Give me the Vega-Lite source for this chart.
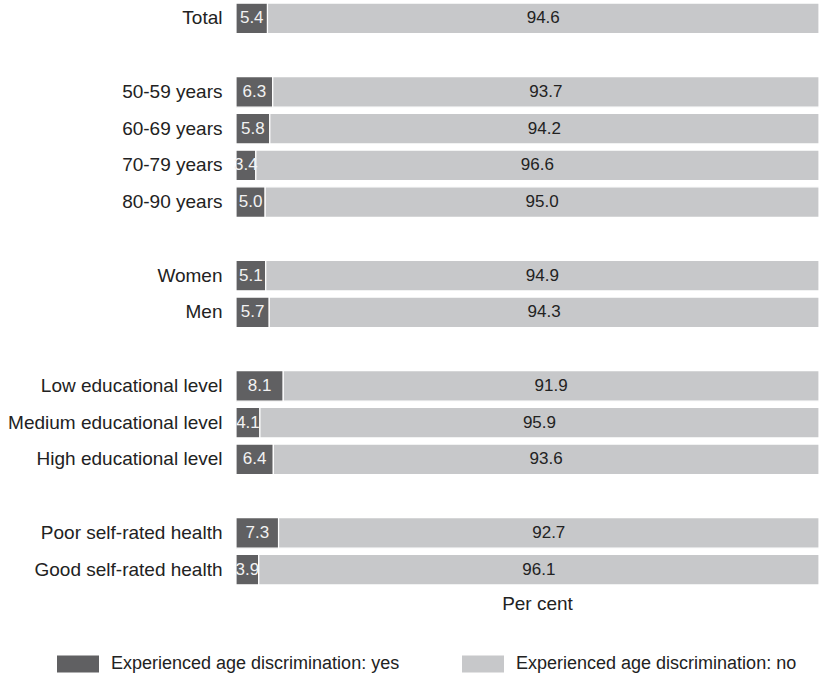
{
  "$schema": "https://vega.github.io/schema/vega-lite/v6.json",
  "autosize": {"type": "none"},
  "width": 583,
  "height": 588,
  "padding": {"left": 236, "top": 0, "right": 1, "bottom": 89},
  "background": "white",
  "config": {"font": "Liberation Sans", "view": {"stroke": null}},
  "data": {"values": [
    {"group": "Total", "resp": "Experienced age discrimination: yes", "pct": 5.4},
    {"group": "Total", "resp": "Experienced age discrimination: no", "pct": 94.6},
    {"group": "50-59 years", "resp": "Experienced age discrimination: yes", "pct": 6.3},
    {"group": "50-59 years", "resp": "Experienced age discrimination: no", "pct": 93.7},
    {"group": "60-69 years", "resp": "Experienced age discrimination: yes", "pct": 5.8},
    {"group": "60-69 years", "resp": "Experienced age discrimination: no", "pct": 94.2},
    {"group": "70-79 years", "resp": "Experienced age discrimination: yes", "pct": 3.4},
    {"group": "70-79 years", "resp": "Experienced age discrimination: no", "pct": 96.6},
    {"group": "80-90 years", "resp": "Experienced age discrimination: yes", "pct": 5.0},
    {"group": "80-90 years", "resp": "Experienced age discrimination: no", "pct": 95.0},
    {"group": "Women", "resp": "Experienced age discrimination: yes", "pct": 5.1},
    {"group": "Women", "resp": "Experienced age discrimination: no", "pct": 94.9},
    {"group": "Men", "resp": "Experienced age discrimination: yes", "pct": 5.7},
    {"group": "Men", "resp": "Experienced age discrimination: no", "pct": 94.3},
    {"group": "Low educational level", "resp": "Experienced age discrimination: yes", "pct": 8.1},
    {"group": "Low educational level", "resp": "Experienced age discrimination: no", "pct": 91.9},
    {"group": "Medium educational level", "resp": "Experienced age discrimination: yes", "pct": 4.1},
    {"group": "Medium educational level", "resp": "Experienced age discrimination: no", "pct": 95.9},
    {"group": "High educational level", "resp": "Experienced age discrimination: yes", "pct": 6.4},
    {"group": "High educational level", "resp": "Experienced age discrimination: no", "pct": 93.6},
    {"group": "Poor self-rated health", "resp": "Experienced age discrimination: yes", "pct": 7.3},
    {"group": "Poor self-rated health", "resp": "Experienced age discrimination: no", "pct": 92.7},
    {"group": "Good self-rated health", "resp": "Experienced age discrimination: yes", "pct": 3.9},
    {"group": "Good self-rated health", "resp": "Experienced age discrimination: no", "pct": 96.1}
  ]},
  "transform": [
    {"stack": "pct", "groupby": ["group"], "sort": [{"field": "resp", "order": "descending"}], "as": ["s0", "s1"]},
    {"calculate": "(datum.s0 + datum.s1) / 2", "as": "mid"}
  ],
  "encoding": {
    "y": {
      "field": "group", "type": "nominal",
      "scale": {
        "domain": ["Total", "gap1", "50-59 years", "60-69 years", "70-79 years", "80-90 years", "gap2", "Women", "Men", "gap3", "Low educational level", "Medium educational level", "High educational level", "gap4", "Poor self-rated health", "Good self-rated health"],
        "paddingInner": 0.17, "paddingOuter": 0.085
      },
      "axis": {
        "title": null, "domain": false, "ticks": false, "labelPadding": 14,
        "labelFontSize": 19, "labelColor": "#222222", "labelLimit": 300,
        "labelExpr": "indexof(datum.value, 'gap') === 0 ? '' : datum.value"
      }
    }
  },
  "layer": [
    {
      "mark": {"type": "bar", "stroke": "white", "strokeWidth": 1.2},
      "encoding": {
        "x": {
          "field": "s0", "type": "quantitative",
          "scale": {"domain": [0, 100], "nice": false},
          "axis": {"title": "Per cent", "domain": false, "ticks": false, "labels": false, "grid": false,
                   "titleFontSize": 19, "titleFontWeight": "normal", "titleColor": "#222222",
                   "titlePadding": 6, "titleX": 301, "titleAlign": "center"}
        },
        "x2": {"field": "s1"},
        "color": {
          "field": "resp", "type": "nominal",
          "scale": {"domain": ["Experienced age discrimination: yes", "Experienced age discrimination: no"], "range": ["#606062", "#c7c8ca"]},
          "legend": {
            "title": null, "orient": "none", "direction": "horizontal",
            "legendX": -179, "legendY": 643,
            "symbolType": "M-1,-0.4H1V0.4H-1Z", "symbolSize": 1764, "symbolStrokeWidth": 0,
            "labelFontSize": 18, "labelColor": "#222222", "labelLimit": 400, "labelOffset": 12,
            "columnPadding": 62
          }
        }
      }
    },
    {
      "mark": {"type": "text", "fontSize": 17, "align": "center", "baseline": "middle"},
      "encoding": {
        "x": {"field": "mid", "type": "quantitative"},
        "text": {"field": "pct", "type": "quantitative", "format": ".1f"},
        "color": {"condition": {"test": "indexof(datum.resp, 'yes') >= 0", "value": "#f2f2f2"}, "value": "#222222"}
      }
    }
  ]
}
